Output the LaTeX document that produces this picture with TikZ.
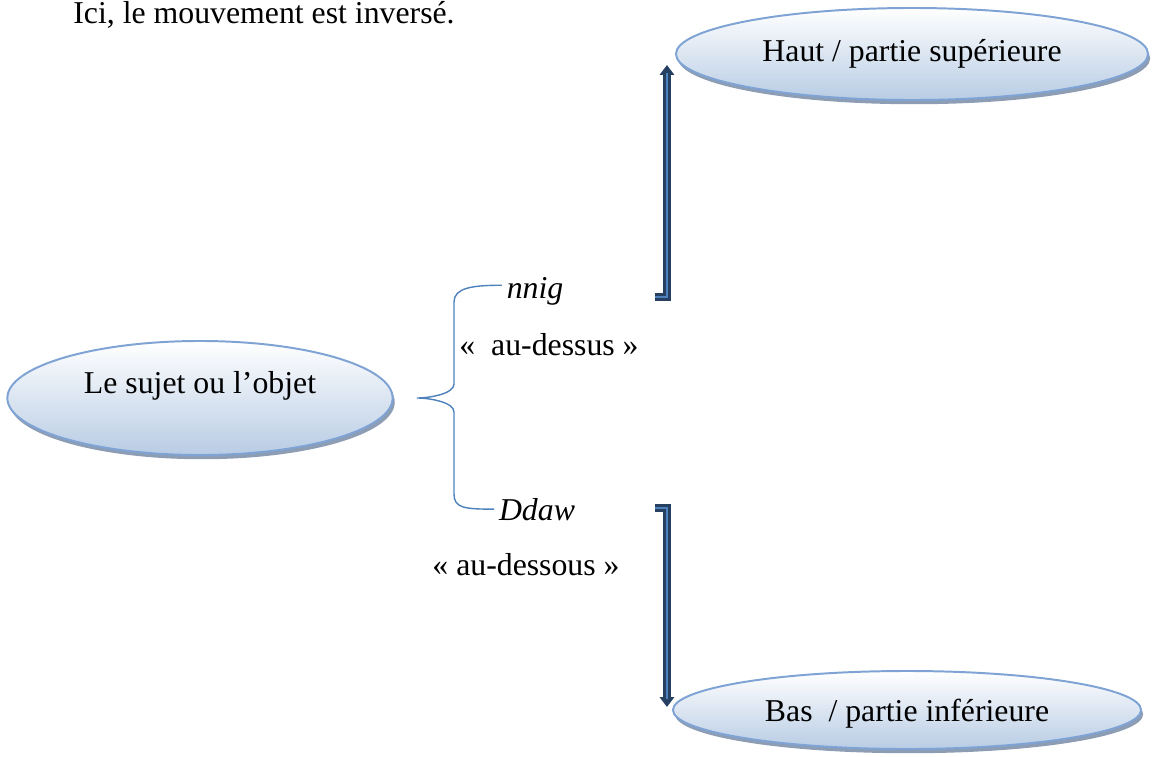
\documentclass[tikz,border=0pt]{standalone}
\usepackage{fontspec}
\setmainfont{Liberation Serif}
\usetikzlibrary{positioning,shapes.geometric,shadows,arrows.meta}
\definecolor{ellborder}{RGB}{126,163,212}
\definecolor{ellfill}{RGB}{184,204,228}
\definecolor{ellshadow}{RGB}{128,146,172}
\definecolor{linkdark}{RGB}{37,64,97}
\definecolor{linklight}{RGB}{79,129,189}
\definecolor{bracec}{RGB}{79,129,189}

\begin{document}
\begin{tikzpicture}[x=0.025cm, y=-0.025cm,
      font=\fontsize{22.6}{27}\selectfont,
      bubble/.style={ellipse, draw=ellborder, line width=1.4pt, inner sep=0pt,
                     top color=white, bottom color=ellfill,
                     drop shadow={shadow xshift=1.5pt, shadow yshift=-3pt,
                                  fill=ellshadow, opacity=0.9}},
      word/.style={anchor=base},
      brace/.style={draw=bracec, line width=1pt},
      link/.style={draw=linkdark, line width=5.5pt,
                   -{Triangle[length=7pt, width=10pt]},
                   postaction={draw=linklight, line width=2pt, arrows=-,
                               shorten >=6pt}}]
    \useasboundingbox (0,0) rectangle (1155,756);
    \node[word] (intro) at (264,23) {Ici, le mouvement est inversé.};
    \node[bubble, minimum width=11.8cm, minimum height=2.3cm] (haut)
      at (912,54) {Haut / partie supérieure};
    \node[bubble, minimum width=9.63cm, minimum height=2.85cm,
          text height=0.35cm, text depth=0.6cm] (sujet)
      at (200,398) {Le sujet ou l’objet};
    \node[bubble, minimum width=11.7cm, minimum height=1.95cm,
          text height=0.6cm, text depth=0.05cm] (bas)
      at (907,710) {Bas~ / partie inférieure};
    \node[word] (nnig) at (535,298) {\itshape nnig};
    \node[word] (dessus) at (549,355) {«~ au-dessus »};
    \node[word] (ddaw) at (537,520) {\itshape Ddaw};
    \node[word] (dessous) at (526,575) {« au-dessous »};
    \coordinate (fork) at (417,398);
    \coordinate (upfoot) at (655,297);
    \coordinate (uptip) at ([shift={(-8,11)}]haut.west);
    \coordinate (downfoot) at (655,508);
    \coordinate (downtip) at ([shift={(-5,-3)}]bas.west);
    % accolade
    \draw[brace] ([yshift=4pt]nnig.west) .. controls +(-30,0) and +(0,-14) ..
      ([shift={(37,-96)}]fork) -- ([shift={(37,-14)}]fork)
      .. controls +(0,10) and +(12,0) .. (fork)
      .. controls +(12,0) and +(0,-10) .. ([shift={(37,14)}]fork)
      -- ([shift={(37,96)}]fork)
      .. controls +(0,14) and +(-30,0) .. (ddaw.west);
    % fleches
    \draw[link] (upfoot) -| (uptip);
    \draw[link] (downfoot) -| (downtip);
  \end{tikzpicture}
\end{document}
